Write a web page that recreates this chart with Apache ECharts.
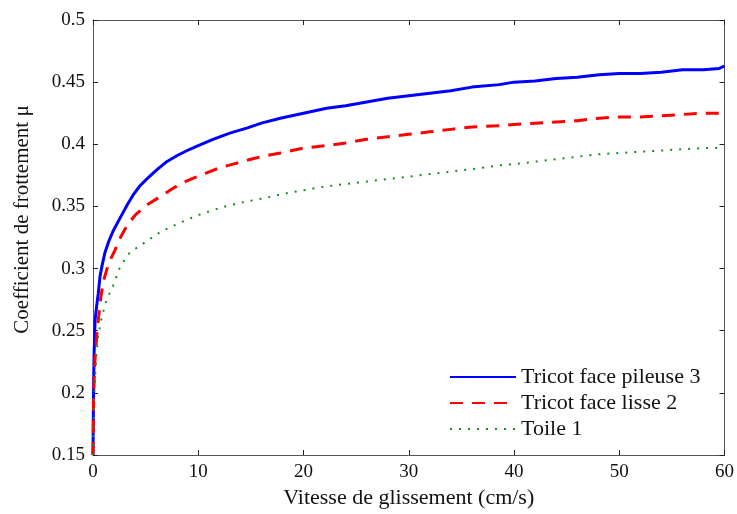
<!DOCTYPE html>
<html>
<head>
<meta charset="utf-8">
<script src="https://cdn.jsdelivr.net/npm/echarts@6/dist/echarts.min.js"></script>
<style>
  html, body { margin: 0; padding: 0; background: #fff; }
  #main { width: 737px; height: 514px; }
</style>
</head>
<body>
<div id="main"></div>
<script>
// courbes : [vitesse (cm/s), coefficient]
const pileuse3 = [
  [0, 0.15], [0.05, 0.2], [0.1, 0.23], [0.15, 0.245], [0.2, 0.259], [0.35, 0.27], [0.5, 0.28],
  [0.67, 0.294], [0.9, 0.304], [1.14, 0.313], [1.5, 0.322], [1.9, 0.33], [2.4, 0.338],
  [2.85, 0.345], [3.3, 0.352], [3.8, 0.359], [4.4, 0.366], [5.1, 0.372], [6, 0.379], [7, 0.386],
  [8, 0.391], [9.2, 0.396], [10, 0.399], [11.4, 0.404], [13, 0.409], [14.6, 0.413], [16, 0.417],
  [17.8, 0.421], [20, 0.425], [22.2, 0.429], [24, 0.431], [26, 0.434], [28, 0.437], [30, 0.439],
  [32, 0.441], [34, 0.443], [36, 0.446], [38.6, 0.448], [40, 0.45], [42, 0.451], [44, 0.453],
  [46, 0.454], [48.1, 0.456], [50, 0.457], [52, 0.457], [54, 0.458], [56, 0.46], [58, 0.46],
  [59.5, 0.461], [60, 0.463]
];
const lisse2 = [
  [0, 0.15], [0.05, 0.19], [0.1, 0.21], [0.2, 0.228], [0.38, 0.249], [0.55, 0.262], [0.76, 0.278],
  [1.0, 0.29], [1.3, 0.299], [1.7, 0.308], [2.1, 0.315], [2.6, 0.325], [3.2, 0.334], [4, 0.343],
  [5.1, 0.351], [6.4, 0.358], [7.5, 0.364], [8.5, 0.369], [9.6, 0.373], [10.8, 0.377], [12, 0.381],
  [13.3, 0.384], [15, 0.388], [16.5, 0.391], [17.8, 0.393], [20, 0.397], [22.2, 0.399], [24, 0.401],
  [26, 0.404], [28, 0.406], [30, 0.408], [32, 0.41], [34, 0.412], [36, 0.414], [38.6, 0.415],
  [40, 0.416], [42, 0.417], [44, 0.418], [46, 0.419], [48.1, 0.421], [50, 0.422], [52, 0.422],
  [54, 0.423], [56, 0.424], [58, 0.425], [60, 0.425]
];
const toile1 = [
  [0, 0.15], [0.05, 0.175], [0.1, 0.195], [0.2, 0.213], [0.3, 0.229], [0.5, 0.246], [0.86, 0.262],
  [1.3, 0.275], [1.9, 0.286], [2.6, 0.302], [3.5, 0.313], [5.1, 0.322], [6.5, 0.33], [8.3, 0.337],
  [10, 0.343], [11.4, 0.347], [13, 0.351], [14.6, 0.354], [16.5, 0.357], [18, 0.36], [20, 0.363],
  [22, 0.366], [24, 0.368], [26, 0.37], [28, 0.372], [30, 0.374], [32, 0.376], [34, 0.378],
  [36, 0.38], [38.6, 0.383], [40, 0.384], [42, 0.386], [44, 0.388], [46, 0.39], [48.1, 0.392],
  [50, 0.393], [52, 0.394], [54, 0.395], [56, 0.396], [58, 0.397], [60, 0.397]
];
const seriesNames = ['Tricot face pileuse 3', 'Tricot face lisse 2', 'Toile 1'];

const font = 'Liberation Serif';
const axisCol = '#555';

function boxAxis(pos, isX, show) {
  return {
    type: 'value',
    position: pos,
    min: isX ? 0 : 0.15,
    max: isX ? 60 : 0.5,
    interval: isX ? 10 : 0.05,
    axisLine: { show: true, onZero: false, lineStyle: { color: axisCol, width: 1 } },
    axisTick: { show: true, inside: true, length: 5, lineStyle: { color: '#222' } },
    axisLabel: { show: show, color: '#111', fontFamily: font, fontSize: 19, margin: 8 },
    splitLine: { show: false }
  };
}

let chart = echarts.init(document.getElementById('main'));
chart.setOption({
  animation: false,
  grid: { left: 93, right: 12, top: 20, bottom: 58 },
  legend: {
    orient: 'vertical',
    left: 444,
    top: 361,
    itemWidth: 66,
    itemHeight: 14,
    itemGap: 4,
    itemStyle: { opacity: 0 },
    textStyle: { fontFamily: font, fontSize: 22, color: '#111' },
    data: seriesNames
  },
  xAxis: [
    Object.assign(boxAxis('bottom', true, true), {
      name: 'Vitesse de glissement (cm/s)',
      nameLocation: 'middle',
      nameGap: 32,
      nameTextStyle: { fontFamily: font, fontSize: 22, color: '#111' }
    }),
    boxAxis('top', true, false)
  ],
  yAxis: [
    Object.assign(boxAxis('left', false, true), {
      name: 'Coefficient de frottement μ',
      nameLocation: 'middle',
      nameGap: 60,
      nameTextStyle: { fontFamily: font, fontSize: 21, color: '#111', padding: [0, 0, 0, 36] }
    }),
    boxAxis('right', false, false)
  ],
  series: [
    {
      name: seriesNames[0], type: 'line', data: pileuse3, showSymbol: false, symbol: 'none',
      lineStyle: { color: '#0000ff', width: 3 }, itemStyle: { color: '#0000ff' }
    },
    {
      name: seriesNames[1], type: 'line', data: lisse2, showSymbol: false, symbol: 'none',
      lineStyle: { color: '#ff0000', width: 3, type: [13, 9] }, itemStyle: { color: '#ff0000' }
    },
    {
      name: seriesNames[2], type: 'line', data: toile1, showSymbol: false, symbol: 'none',
      lineStyle: { color: '#1a8a1a', width: 2, type: [2, 7] }, itemStyle: { color: '#1a8a1a' }
    }
  ]
});
</script>
</body>
</html>
